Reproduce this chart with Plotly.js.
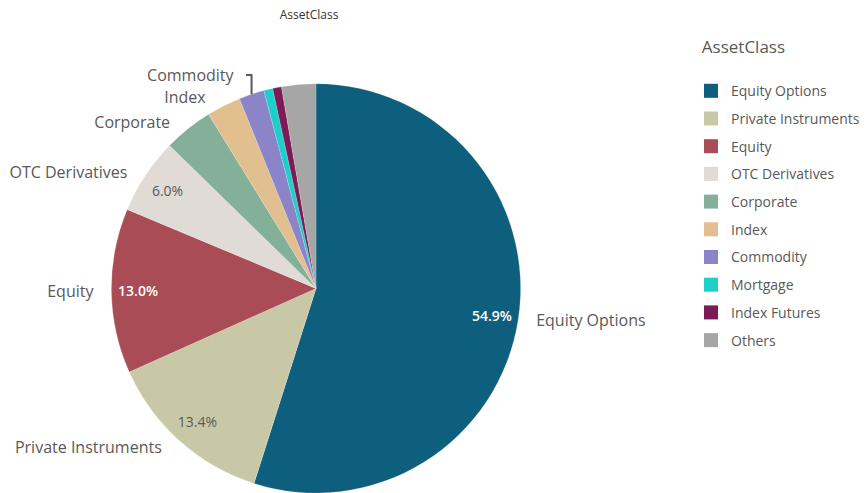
<!DOCTYPE html>
<html>
<head>
<meta charset="utf-8">
<script src="https://cdn.plot.ly/plotly-3.0.1.min.js"></script>
<style>html,body{margin:0;padding:0;background:#fff;}#chart{width:867px;height:493px;}</style>
</head>
<body>
<div id="chart"></div>
<script>
// ---- data ----
const categories = ["Equity Options", "Private Instruments", "Equity", "OTC Derivatives", "Corporate", "Index", "Commodity", "Mortgage", "Index Futures", "Others"];
const shares = [54.9, 13.4, 13.0, 6.0, 3.9, 2.7, 2.0, 0.7, 0.7, 2.7];
const colors = ["#0e5f7d", "#c9c8a6", "#a94c55", "#e1dbd6", "#84b09a", "#e1bf8e", "#8c84c9", "#1ccfc9", "#7c1c56", "#a6a6a6"];
const showPercent = [true, true, true, true, false, false, false, false, false, false];
const percentColors = ["#ffffff", "#595959", "#ffffff", "#595959", "#595959", "#595959", "#595959", "#595959", "#595959", "#595959"];
const percentWeights = [600, 400, 600, 400, 400, 400, 400, 400, 400, 400];
const showOutsideLabel = [true, true, true, true, true, true, true, false, false, false];
const chartTitle = "AssetClass";
const legendTitle = "AssetClass";

const FONT = "'Open Sans', 'Noto Sans', sans-serif";
const domain = {x: [111/867, 521/867], y: [0, 0.83]};
const PAD = "\u00a0\u00a0\u00a0";
const clear = categories.map(() => "rgba(0,0,0,0)");

// pad each outside label on the side facing the pie (right half vs left half, clockwise from top)
const total = shares.reduce((a, b) => a + b, 0);
let cum = 0;
const outsideTemplates = shares.map((v, i) => {
  const mid = (cum + v / 2) / total; cum += v;
  if (!showOutsideLabel[i]) return "";
  return mid < 0.5 ? PAD + "%{label}" : "%{label}" + PAD;
});

// coloured pie with outside category labels
const pieMain = {
  type: "pie",
  labels: categories,
  values: shares,
  sort: false,
  direction: "clockwise",
  rotation: 0,
  marker: {colors: colors, line: {color: "rgba(255,255,255,0.35)", width: 0.5}},
  texttemplate: outsideTemplates,
  textposition: "outside",
  outsidetextfont: {family: FONT, size: 16, color: "#595959"},
  showlegend: false,
  hoverinfo: "label+percent",
  domain: domain
};

// transparent ring that carries the percentage labels near the rim
const pieRing = {
  type: "pie",
  labels: categories,
  values: shares,
  sort: false,
  direction: "clockwise",
  rotation: 0,
  hole: 0.74,
  marker: {colors: clear, line: {width: 0}},
  texttemplate: showPercent.map(s => s ? "%{percent:.1%}" : ""),
  textposition: "inside",
  insidetextorientation: "horizontal",
  insidetextfont: {family: FONT, size: 14, color: percentColors, weight: percentWeights},
  showlegend: false,
  hoverinfo: "skip",
  domain: domain
};

// legend entries (no data points; legend only)
const legendTraces = categories.map((c, i) => ({
  type: "scatter",
  mode: "markers",
  x: [null], y: [null],
  name: c,
  legendgroup: "g" + i,
  marker: {symbol: "square", size: 14, color: colors[i]},
  hoverinfo: "skip",
  showlegend: true
}));

const layout = {
  width: 867,
  height: 493,
  margin: {l: 0, r: 0, t: 0, b: 0},
  paper_bgcolor: "#ffffff",
  plot_bgcolor: "#ffffff",
  font: {family: FONT, color: "#595959"},
  title: {text: chartTitle, x: 309/867, xanchor: "center", xref: "paper", y: 1 - 15/493, yref: "container", yanchor: "middle", font: {family: FONT, size: 12, color: "#333333"}},
  xaxis: {visible: false},
  yaxis: {visible: false},
  showlegend: true,
  legend: {
    x: 691/867, xanchor: "left",
    y: 1 - 31/493, yanchor: "top",
    traceorder: "grouped",
    tracegroupgap: 6.5,
    font: {family: FONT, size: 14, color: "#595959"},
    title: {text: "\u00a0\u00a0" + legendTitle + "<br>", font: {family: FONT, size: 17, color: "#595959"}},
    bgcolor: "rgba(0,0,0,0)"
  }
};

Plotly.newPlot("chart", [pieMain, pieRing, ...legendTraces], layout, {displayModeBar: false});
</script>
</body>
</html>
